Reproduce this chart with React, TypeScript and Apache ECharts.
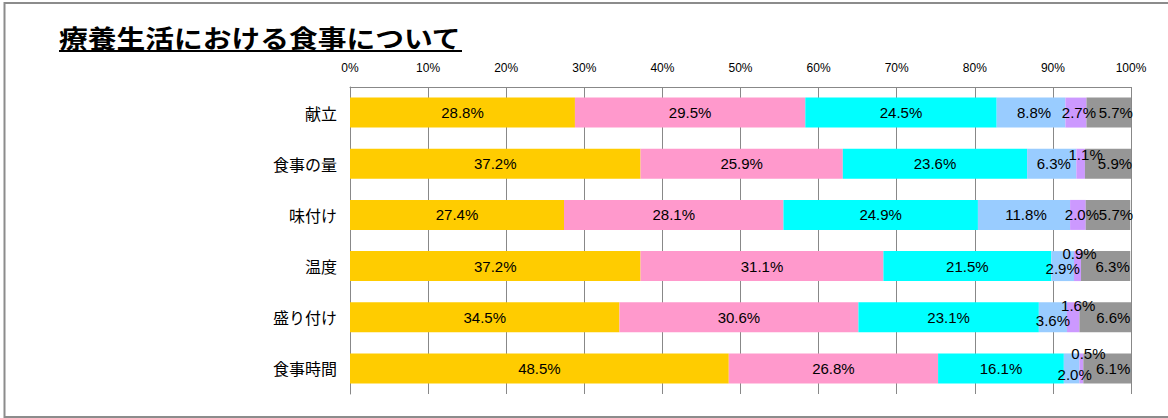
import React, { useEffect, useRef } from "react";
import * as echarts from "echarts";

const categories = ["献立", "食事の量", "味付け", "温度", "盛り付け", "食事時間"];
const seriesNames = ["系列1", "系列2", "系列3", "系列4", "系列5", "系列6"];
const s1 = [28.8, 37.2, 27.4, 37.2, 34.5, 48.5];
const s2 = [29.5, 25.9, 28.1, 31.1, 30.6, 26.8];
const s3 = [24.5, 23.6, 24.9, 21.5, 23.1, 16.1];
const s4 = [8.8, 6.3, 11.8, 2.9, 3.6, 2.0];
const s5 = [2.7, 1.1, 2.0, 0.9, 1.6, 0.5];
const s6 = [5.7, 5.9, 5.7, 6.3, 6.6, 6.1];
const tickValues = [0, 10, 20, 30, 40, 50, 60, 70, 80, 90, 100];
const title = "療養生活における食事について";

const colors = ["#FFCC00", "#FF99CC", "#00FFFF", "#99CCFF", "#CC99FF", "#969696"];

// label offsets (px) per series, per category
const labelOffsets: number[][][] = [
  [[0, 0], [0, 0], [0, 0], [0, 0], [0, 0], [0, 0]],
  [[0, 0], [0, 0], [0, 0], [0, 0], [0, 0], [0, 0]],
  [[0, 0], [0, 0], [0, 0], [0, 0], [0, 0], [0, 0]],
  [[3, 0], [2, 0], [2, 0], [0, 2], [0, 3], [3, 6]],
  [[3, 0], [5, -9], [4, 0], [2, -13], [5, -12], [7, -15]],
  [[7, 0], [7, 0], [8, 0], [7, 0], [8, 0], [6, 0]],
];

const LABEL_FONT = '"Liberation Sans", Arial, sans-serif';

export default function App() {
  const ref = useRef<HTMLDivElement>(null);
  useEffect(() => {
    if (!ref.current) return;
    const chart = echarts.init(ref.current, undefined, { renderer: "svg" });
    const all = [s1, s2, s3, s4, s5, s6];
    const series = all.map((arr, si) => ({
      name: seriesNames[si],
      type: "bar",
      stack: "total",
      barWidth: 30,
      itemStyle: { color: colors[si] },
      data: arr.map((v, ci) => ({
        value: v,
        label: { offset: labelOffsets[si][ci] },
      })),
      label: {
        show: true,
        position: "inside",
        color: "#000",
        fontSize: 15,
        fontFamily: LABEL_FONT,
        formatter: (p: any) => Number(p.value).toFixed(1) + "%",
      },
    }));
    chart.setOption({
      animation: false,
      backgroundColor: "#fff",
      grid: { left: 350, right: 37, top: 87, height: 307, containLabel: false },
      xAxis: {
        type: "value",
        position: "top",
        min: 0,
        max: 100,
        interval: 10,
        axisLine: { show: true, lineStyle: { color: "#888", width: 1 } },
        axisTick: { show: false },
        axisLabel: {
          margin: 13,
          color: "#000",
          fontSize: 12,
          fontFamily: '"Liberation Sans", Arial, sans-serif',
          formatter: (v: number) => (tickValues.includes(v) ? v + "%" : ""),
        },
        splitLine: { show: true, lineStyle: { color: "#888", width: 1 } },
      },
      yAxis: {
        type: "category",
        inverse: true,
        data: categories,
        axisLine: { show: true, lineStyle: { color: "#888", width: 1 } },
        axisTick: { show: false },
        axisLabel: {
          margin: 13,
          color: "#000",
          fontSize: 16,
          fontFamily: '"Noto Sans CJK JP", sans-serif',
        },
      },
      series,
      graphic: [
        {
          type: "rect",
          shape: { x: 4.5, y: 3, width: 1250, height: 414 },
          style: { fill: "none", stroke: "#8c8c8c", lineWidth: 2 },
          silent: true,
        },
        {
          type: "text",
          x: 59,
          y: 25,
          scaleX: 1.15,
          style: {
            text: title,
            fontSize: 25,
            fontWeight: "bold",
            fontFamily: '"Noto Sans CJK JP", sans-serif',
            fill: "#000",
            textVerticalAlign: "top",
          },
        },
        {
          type: "line",
          shape: { x1: 59, y1: 51, x2: 462, y2: 51 },
          style: { stroke: "#000", lineWidth: 2 },
        },
      ],
    });
    return () => chart.dispose();
  }, []);
  return (
    <div
      ref={ref}
      style={{ position: "fixed", left: 0, top: 0, width: 1168, height: 418 }}
    />
  );
}
